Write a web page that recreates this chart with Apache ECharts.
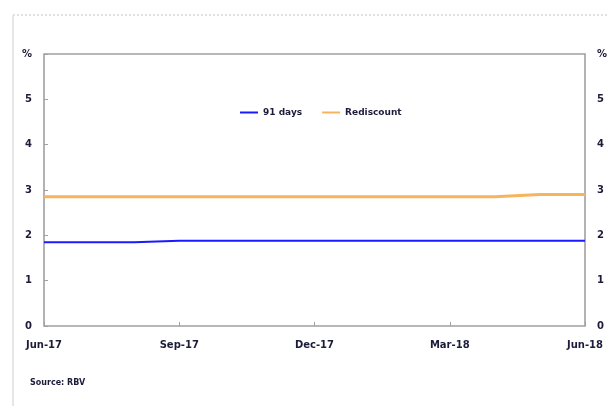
<!DOCTYPE html>
<html>
<head>
<meta charset="utf-8">
<script src="https://cdn.jsdelivr.net/npm/echarts@6/dist/echarts.min.js"></script>
<style>
html,body{margin:0;padding:0;background:#fff;}
#c{width:607px;height:406px;}
</style>
</head>
<body>
<div id="c"></div>
<script>
var months = ['Jun-17','Jul-17','Aug-17','Sep-17','Oct-17','Nov-17','Dec-17','Jan-18','Feb-18','Mar-18','Apr-18','May-18','Jun-18'];
var days91 = [1.85,1.85,1.85,1.88,1.88,1.88,1.88,1.88,1.88,1.88,1.88,1.88,1.88];
var rediscount = [2.85,2.85,2.85,2.85,2.85,2.85,2.85,2.85,2.85,2.85,2.85,2.9,2.9];
var yTicks = ['0','1','2','3','4','5','%'];

var chart = echarts.init(document.getElementById('c'), null, {renderer:'canvas'});
var txt = {color:'#1c1c3a', fontFamily:'DejaVu Sans', fontWeight:'bold', fontSize:10};
function yLab(v){return yTicks[Math.round(v)];}
chart.setOption({
  animation:false,
  grid:{left:44, right:22, top:54, bottom:80, containLabel:false, outerBoundsMode:'none', show:true, borderColor:'#a0a0a0', borderWidth:1.6},
  legend:{
    data:['91 days','Rediscount'], top:103, left:235,
    itemWidth:18, itemHeight:2, itemGap:20, icon:'rect',
    textStyle:{color:'#1c1c3a', fontFamily:'DejaVu Sans', fontWeight:'bold', fontSize:9}
  },
  xAxis:{
    type:'category', data:months, boundaryGap:false,
    axisLine:{show:false},
    axisTick:{show:true, inside:true, interval:2, length:4, lineStyle:{color:'#a0a0a0'}},
    axisLabel:Object.assign({interval:2, margin:14}, txt)
  },
  yAxis:[
    {type:'value', min:0, max:6, interval:1, position:'left',
     axisLine:{show:false}, splitLine:{show:false},
     axisTick:{show:true, inside:true, length:4, lineStyle:{color:'#a0a0a0'}},
     axisLabel:Object.assign({formatter:yLab, margin:12}, txt)},
    {type:'value', min:0, max:6, interval:1, position:'right',
     axisLine:{show:false}, splitLine:{show:false}, axisTick:{show:false},
     axisLabel:Object.assign({formatter:yLab, margin:12}, txt)}
  ],
  series:[
    {name:'91 days', type:'line', data:days91, showSymbol:false, lineStyle:{color:'#1a1aff', width:2}, itemStyle:{color:'#1a1aff'}},
    {name:'Rediscount', type:'line', data:rediscount, showSymbol:false, lineStyle:{color:'#f8b45c', width:3}, itemStyle:{color:'#f8b45c'}}
  ],
  graphic:[
    {type:'line', shape:{x1:13, y1:15, x2:607, y2:15}, style:{stroke:'#e0e0e0', lineWidth:2, lineDash:[2,2]}},
    {type:'line', shape:{x1:13, y1:15, x2:13, y2:406}, style:{stroke:'#e6e6e6', lineWidth:2}},
    {type:'text', left:30, top:379, style:{text:'Source: RBV', fill:'#1c1c3a', font:'bold 8px DejaVu Sans'}}
  ]
});
</script>
</body>
</html>
